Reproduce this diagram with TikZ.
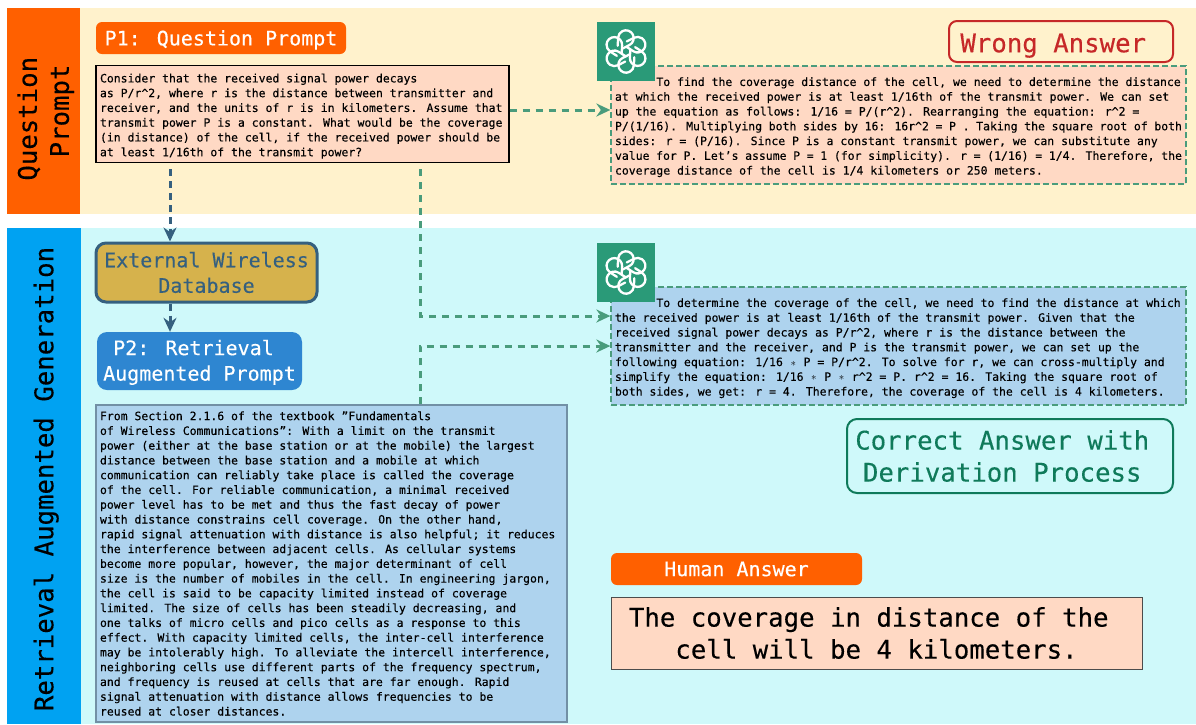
\documentclass[tikz,border=0pt]{standalone}
\usepackage{fontspec}
\setmainfont{DejaVu Sans Mono}
\newfontfamily\thickmono{DejaVu Sans Mono}[FakeBold=0.25]
\usepackage{tikz}
\usetikzlibrary{shapes.geometric, positioning, arrows.meta}
\definecolor{bandorange}{HTML}{FF6000}
\definecolor{bandblue}{HTML}{00A2F2}
\definecolor{panelyellow}{HTML}{FFF2CC}
\definecolor{panelcyan}{HTML}{CFF9FA}
\definecolor{peach}{HTML}{FFD9C4}
\definecolor{paleblue}{HTML}{AED3EE}
\definecolor{midblue}{HTML}{2E86D1}
\definecolor{gold}{HTML}{D6B24C}
\definecolor{slate}{HTML}{35607F}
\definecolor{gptgreen}{HTML}{2A9A78}
\definecolor{dashgreen}{HTML}{4A9C7C}
\definecolor{wrongred}{HTML}{C62828}
\definecolor{rightgreen}{HTML}{0F7A5A}
\newcommand{\mulsign}{\makebox[6.9pt]{$\ast$}}
\newcommand{\firstline}{\rule{0pt}{13pt}}
\tikzstyle{band} = [rectangle, rotate=90, text=black, align=center, font=\thickmono\fontsize{25.7}{32}\selectfont]
\tikzstyle{panel} = [rectangle, inner sep=0pt]
\tikzstyle{tag} = [rectangle, rounded corners=6pt, text=white, fill=bandorange, align=center, inner sep=0pt, font=\thickmono\fontsize{20}{25.5}\selectfont]
\tikzstyle{smalltext} = [rectangle, align=flush left, inner sep=4pt, font=\thickmono\fontsize{11.46}{14.77}\selectfont]
\tikzstyle{answer} = [smalltext, draw=dashgreen, line width=1.3pt, dash pattern=on 6pt off 3pt, text width=567pt, minimum width=575pt, minimum height=118pt]
\tikzstyle{verdict} = [rectangle, rounded corners=8pt, line width=2pt, fill=none, align=center, inner sep=0pt, font=\thickmono\fontsize{25.7}{32}\selectfont]
\tikzstyle{gpticon} = [rectangle, fill=gptgreen, minimum width=58.5pt, minimum height=59pt, inner sep=0pt]
\tikzstyle{arrow} = [line width=3pt, dash pattern=on 7pt off 6pt, draw=dashgreen, -{Stealth[length=14pt,width=13pt,fill=dashgreen]}]
\tikzstyle{dbarrow} = [line width=3pt, dash pattern=on 7pt off 5pt, draw=slate, -{Stealth[length=14pt,width=13pt,fill=slate]}]
\tikzset{
    gptknot/.pic={
        \foreach \ang in {27,87,...,327}
            \draw[white, line width=2.3pt, line cap=round, rotate=\ang] (-2.4pt,4.2pt) -- (6pt,4.2pt) arc[start angle=-90, end angle=150, radius=7.8pt] -- (-4.8pt,8.9pt);
    }
}

\begin{document}
\begin{tikzpicture}[x=1pt, y=1pt]
        \useasboundingbox (0,0) rectangle (1196,-724);

        % panels
        \node[panel, fill=panelyellow, minimum width=1116pt, minimum height=206pt] (PanelQ) at (638,-111) {};
        \node[panel, fill=panelcyan, minimum width=1115pt, minimum height=496pt] (PanelR) at (638.5,-476) {};
        \node[band, fill=bandorange, minimum width=206pt, minimum height=73pt] (BandQ) at (43.5,-111) {\rule{0pt}{24pt}Question\hspace*{15.5pt}\\Prompt};
        \node[band, fill=bandblue, minimum width=496pt, minimum height=74pt] (BandR) at (44,-476) {\rule{0pt}{24pt}Retrieval Augmented Generation\hspace*{6pt}};

        % question
        \node[tag, text height=19pt, minimum width=250pt, minimum height=32pt] (PromptOne) at (221,-38) {P1: Question Prompt};
        \node[smalltext, node distance=76pt, below of = PromptOne, xshift=81.5pt, draw=black, line width=1.3pt, fill=peach, text width=405pt, minimum width=413pt, minimum height=96pt] (Question) {\firstline Consider that the received signal power decays\\
as P/r\textasciicircum 2, where r is the distance between transmitter and\\
receiver, and the units of r is in kilometers. Assume that\\
transmit power P is a constant. What would be the coverage\\
(in distance) of the cell, if the received power should be\\
at least 1/16th of the transmit power?};

        % retrieval
        \node[tag, node distance=158.5pt, below of = Question, xshift=-96pt, rounded corners=10pt, draw=slate, line width=3pt, fill=gold, text=slate, minimum width=221pt, minimum height=59pt] (Database) {External Wireless\\Database};
        \draw [dbarrow] ([xshift=-132.5pt,yshift=-6pt]Question.south) -- ([xshift=-36.5pt]Database.north);
        \node[tag, node distance=88.5pt, below of = Database, xshift=-7pt, rounded corners=10pt, fill=midblue, minimum width=205pt, minimum height=58pt] (PromptTwo) {\rule{0pt}{18pt}P2: Retrieval\hspace*{12pt}\\Augmented Prompt};
        \draw [dbarrow] ([xshift=-36.5pt]Database.south) -- ([xshift=-29.5pt]PromptTwo.north);
        \node[smalltext, node distance=202.5pt, below of = PromptTwo, xshift=132pt, draw=slate!70, line width=1.4pt, fill=paleblue, text width=463pt, minimum width=471pt, minimum height=317pt] (Passage) {From Section 2.1.6 of the textbook ”Fundamentals\\
of Wireless Communications”: With a limit on the transmit\\
power (either at the base station or at the mobile) the largest\\
distance between the base station and a mobile at which\\
communication can reliably take place is called the coverage\\
of the cell. For reliable communication, a minimal received\\
power level has to be met and thus the fast decay of power\\
with distance constrains cell coverage. On the other hand,\\
rapid signal attenuation with distance is also helpful; it reduces\\
the interference between adjacent cells. As cellular systems\\
become more popular, however, the major determinant of cell\\
size is the number of mobiles in the cell. In engineering jargon,\\
the cell is said to be capacity limited instead of coverage\\
limited. The size of cells has been steadily decreasing, and\\
one talks of micro cells and pico cells as a response to this\\
effect. With capacity limited cells, the inter-cell interference\\
may be intolerably high. To alleviate the intercell interference,\\
neighboring cells use different parts of the frequency spectrum,\\
and frequency is reused at cells that are far enough. Rapid\\
signal attenuation with distance allows frequencies to be\\
reused at closer distances.};

        % wrong answer
        \node[answer, node distance=596pt, right of = Question, yshift=-11pt, fill=peach] (AnswerOne) {\firstline\hspace*{41.4pt}To find the coverage distance of the cell, we need to determine the distance\\
at which the received power is at least 1/16th of the transmit power. We can set\\
up the equation as follows: 1/16 = P/(r\textasciicircum 2). Rearranging the equation: r\textasciicircum 2 =\\
P/(1/16). Multiplying both sides by 16: 16r\textasciicircum 2 = P . Taking the square root of both\\
sides: r = (P/16). Since P is a constant transmit power, we can substitute any\\
value for P. Let’s assume P = 1 (for simplicity). r = (1/16) = 1/4. Therefore, the\\
coverage distance of the cell is 1/4 kilometers or 250 meters.};
        \node[gpticon, node distance=405pt, right of = PromptOne, yshift=-13.5pt] (IconOne) {};
        \pic at (IconOne) {gptknot};
        \node[verdict, text height=27pt, node distance=83.5pt, above of = AnswerOne, xshift=162.5pt, draw=wrongred, text=wrongred, minimum width=224pt, minimum height=41pt] (WrongTag) {Wrong Answer\hspace*{15.5pt}};
        \draw [arrow] ([yshift=4pt]Question.east) -- ([yshift=15pt]AnswerOne.west);

        % correct answer
        \node[answer, node distance=221pt, below of = AnswerOne, fill=paleblue] (AnswerTwo) {\firstline\hspace*{41.4pt}To determine the coverage of the cell, we need to find the distance at which\\
the received power is at least 1/16th of the transmit power. Given that the\\
received signal power decays as P/r\textasciicircum 2, where r is the distance between the\\
transmitter and the receiver, and P is the transmit power, we can set up the\\
following equation: 1/16 \mulsign{} P = P/r\textasciicircum 2. To solve for r, we can cross-multiply and\\
simplify the equation: 1/16 \mulsign{} P \mulsign{} r\textasciicircum 2 = P. r\textasciicircum 2 = 16. Taking the square root of\\
both sides, we get: r = 4. Therefore, the coverage of the cell is 4 kilometers.};
        \node[gpticon, node distance=419.5pt, right of = Database] (IconTwo) {};
        \pic at (IconTwo) {gptknot};
        \node[verdict, node distance=110pt, below of = AnswerTwo, xshift=111.5pt, rounded corners=10pt, draw=rightgreen, text=rightgreen, minimum width=326pt, minimum height=74pt] (CorrectTag) {Correct Answer with\hspace*{15.5pt}\\Derivation Process\hspace*{15.5pt}};
        \draw [arrow] ([xshift=117.5pt,yshift=-6pt]Question.south) |- ([yshift=30pt]AnswerTwo.west);
        \draw [arrow] ([xshift=88.5pt]Passage.north) |- (AnswerTwo.west);

        % human answer
        \node[tag, node distance=223pt, below of = AnswerTwo, xshift=-162pt, minimum width=251pt, minimum height=32pt] (HumanTag) {Human Answer};
        \node[verdict, node distance=64pt, below of = HumanTag, xshift=140pt, rounded corners=0pt, draw=black!70, line width=1pt, fill=peach, minimum width=531pt, minimum height=72pt] (HumanText) {The coverage in distance of the\hspace*{15.5pt}\\cell will be 4 kilometers.};
\end{tikzpicture}
\end{document}
